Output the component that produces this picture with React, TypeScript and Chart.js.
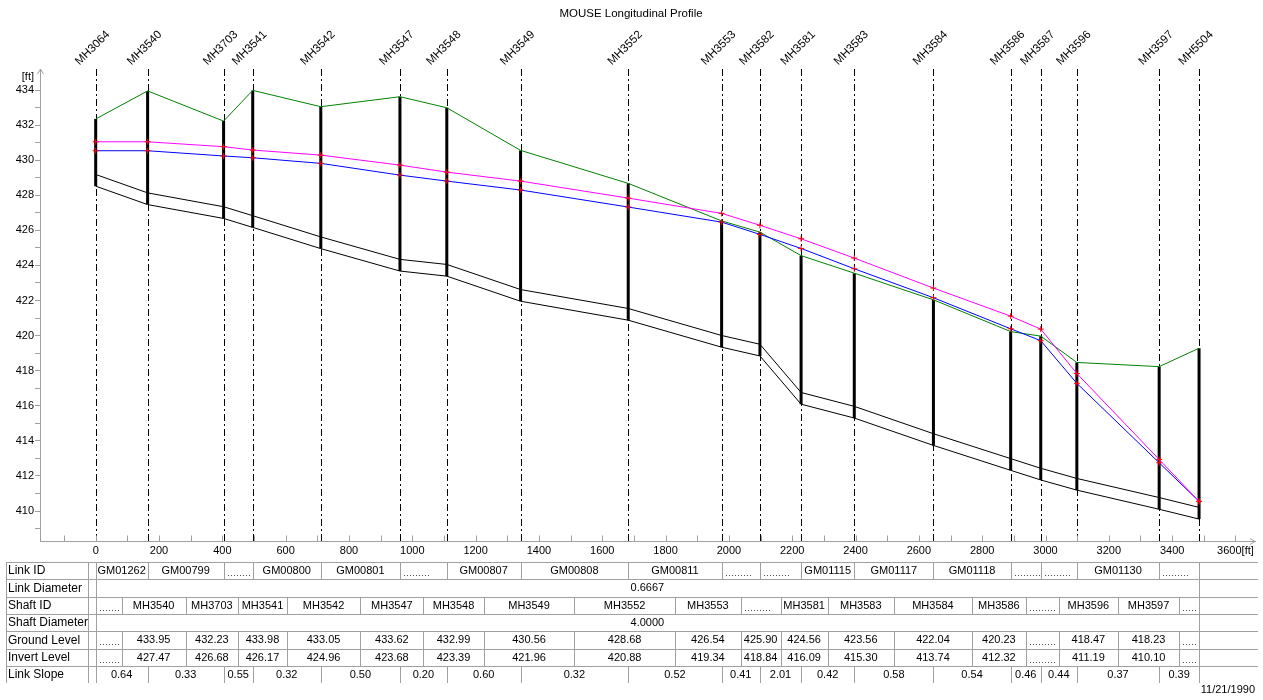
import React, { useEffect, useRef } from "react";
import { Chart, registerables } from "chart.js";

Chart.register(...registerables);

// ---------------- DATA ----------------
const MANHOLES = ["MH3064", "MH3540", "MH3703", "MH3541", "MH3542", "MH3547", "MH3548", "MH3549", "MH3552", "MH3553", "MH3582", "MH3581", "MH3583", "MH3584", "MH3586", "MH3587", "MH3596", "MH3597", "MH5504"];
const CHAINAGE = [0, 164, 404, 496, 711, 961, 1109, 1342, 1682, 1977, 2098, 2228, 2396, 2646, 2890, 2985, 3099, 3359, 3485];
const GROUND_LEVEL = [432.35, 433.95, 432.23, 433.98, 433.05, 433.62, 432.99, 430.56, 428.68, 426.54, 425.9, 424.56, 423.56, 422.04, 420.23, 419.97, 418.47, 418.23, 419.28];
const INVERT_LEVEL = [428.52, 427.47, 426.68, 426.17, 424.96, 423.68, 423.39, 421.96, 420.88, 419.34, 418.84, 416.09, 415.3, 413.74, 412.32, 411.77, 411.19, 410.1, 409.54];
const WATER_LEVEL = [430.54, 430.54, 430.24, 430.14, 429.82, 429.15, 428.81, 428.3, 427.33, 426.47, 425.77, 424.97, 423.81, 422.16, 420.39, 419.71, 417.28, 412.75, 410.55];
const ENERGY_LEVEL = [431.05, 431.05, 430.77, 430.58, 430.29, 429.72, 429.32, 428.81, 427.84, 426.97, 426.29, 425.52, 424.42, 422.71, 421.11, 420.37, 417.84, 412.94, 410.55];
const LINK_DIAMETER = 0.6667;
const SHAFT_DIAMETER = 4.0;

const LINK_IDS = ["GM01262", "GM00799", null, "GM00800", "GM00801", null, "GM00807", "GM00808", "GM00811", null, null, "GM01115", "GM01117", "GM01118", null, null, "GM01130", null];
const LINK_SLOPES = ["0.64", "0.33", "0.55", "0.32", "0.50", "0.20", "0.60", "0.32", "0.52", "0.41", "2.01", "0.42", "0.58", "0.54", "0.46", "0.44", "0.37", "0.39"];
const SHAFT_IDS = [null, "MH3540", "MH3703", "MH3541", "MH3542", "MH3547", "MH3548", "MH3549", "MH3552", "MH3553", null, "MH3581", "MH3583", "MH3584", "MH3586", null, "MH3596", "MH3597", null];
const GROUND_TABLE = [null, "433.95", "432.23", "433.98", "433.05", "433.62", "432.99", "430.56", "428.68", "426.54", "425.90", "424.56", "423.56", "422.04", "420.23", null, "418.47", "418.23", null];
const INVERT_TABLE = [null, "427.47", "426.68", "426.17", "424.96", "423.68", "423.39", "421.96", "420.88", "419.34", "418.84", "416.09", "415.30", "413.74", "412.32", null, "411.19", "410.10", null];
const ROW_LABELS = ["Link ID", "Link Diameter", "Shaft ID", "Shaft Diameter", "Ground Level", "Invert Level", "Link Slope"];

const X_TICKS = [-100, 0, 100, 200, 300, 400, 500, 600, 700, 800, 900, 1000, 1100, 1200, 1300, 1400, 1500, 1600, 1700, 1800, 1900, 2000, 2100, 2200, 2300, 2400, 2500, 2600, 2700, 2800, 2900, 3000, 3100, 3200, 3300, 3400, 3500, 3600];
const X_LABELS = [0, 200, 400, 600, 800, 1000, 1200, 1400, 1600, 1800, 2000, 2200, 2400, 2600, 2800, 3000, 3200, 3400, 3600];
const Y_TICKS = [409, 410, 411, 412, 413, 414, 415, 416, 417, 418, 419, 420, 421, 422, 423, 424, 425, 426, 427, 428, 429, 430, 431, 432, 433, 434];
const Y_LABELS = [410, 412, 414, 416, 418, 420, 422, 424, 426, 428, 430, 432, 434];

const TITLE = "MOUSE Longitudinal Profile";
const DATE_TEXT = "11/21/1990";

const FONT = '"Liberation Sans", Arial, sans-serif';

const extrasPlugin = {
  id: "profileExtras",
  beforeDatasetsDraw(chart: any) {
    const { ctx, chartArea, scales } = chart;
    const xs = scales.x;
    ctx.save();
    ctx.strokeStyle = "#000";
    ctx.lineWidth = 1;
    ctx.setLineDash([7, 3, 2, 3]);
    for (const c of CHAINAGE) {
      const x = Math.round(xs.getPixelForValue(c)) + 0.5;
      ctx.beginPath();
      ctx.moveTo(x, chartArea.top);
      ctx.lineTo(x, chartArea.bottom);
      ctx.stroke();
    }
    ctx.restore();
  },
  afterDraw(chart: any) {
    const { ctx, chartArea, scales } = chart;
    const xs = scales.x;
    ctx.save();
    ctx.fillStyle = "#000";
    // title
    ctx.font = `11.5px ${FONT}`;
    ctx.textAlign = "center";
    ctx.textBaseline = "middle";
    ctx.fillText(TITLE, 631, 14);

    // [ft] unit
    ctx.font = `11px ${FONT}`;
    ctx.textAlign = "right";
    ctx.fillText("[ft]", 34, 77);

    // axis arrows and inner x ticks
    ctx.strokeStyle = "#a0a0a0";
    ctx.lineWidth = 1;
    const ax = Math.round(chartArea.left) + 0.5;
    const ay = Math.round(chartArea.bottom) + 0.5;
    ctx.beginPath();
    ctx.moveTo(ax - 3, chartArea.top + 5);
    ctx.lineTo(ax, chartArea.top);
    ctx.lineTo(ax + 3, chartArea.top + 5);
    ctx.stroke();
    ctx.beginPath();
    ctx.moveTo(chartArea.right - 5, ay - 3);
    ctx.lineTo(chartArea.right, ay);
    ctx.lineTo(chartArea.right - 5, ay + 3);
    ctx.stroke();
    for (const t of X_TICKS) {
      const x = Math.round(xs.getPixelForValue(t)) + 0.5;
      ctx.beginPath();
      ctx.moveTo(x, ay - 6);
      ctx.lineTo(x, ay);
      ctx.stroke();
    }

    // manhole labels
    ctx.fillStyle = "#000";
    ctx.font = `11.5px ${FONT}`;
    ctx.textAlign = "center";
    ctx.textBaseline = "middle";
    CHAINAGE.forEach((c, i) => {
      const x = xs.getPixelForValue(c);
      ctx.save();
      ctx.translate(x - 3, 48);
      ctx.rotate(-Math.PI / 4);
      ctx.fillText(MANHOLES[i], 0, 0);
      ctx.restore();
    });

    // table
    const top = 562;
    const rh = 17.3;
    const nRows = ROW_LABELS.length;
    const L = 6;
    const LR = 88;
    const R = 1258;
    const bottom = top + nRows * rh;
    const px = CHAINAGE.map((c) => xs.getPixelForValue(c));
    const x0 = px[0];
    const xn = px[px.length - 1];
    const mids = px.slice(0, -1).map((p, i) => (p + px[i + 1]) / 2);
    const inner = px.slice(1, -1);

    ctx.strokeStyle = "#a0a0a0";
    ctx.lineWidth = 1;
    const hl = (y: number, a: number, b: number) => {
      const yy = Math.round(y) + 0.5;
      ctx.beginPath();
      ctx.moveTo(a, yy);
      ctx.lineTo(b, yy);
      ctx.stroke();
    };
    const vl = (x: number, a: number, b: number) => {
      const xx = Math.round(x) + 0.5;
      ctx.beginPath();
      ctx.moveTo(xx, Math.round(a));
      ctx.lineTo(xx, Math.round(b));
      ctx.stroke();
    };
    for (let r = 0; r < nRows; r++) hl(top + r * rh, L, R);
    vl(L, top, bottom);
    vl(LR, top, bottom);
    vl(x0, top, bottom);
    vl(xn, top, bottom);
    const rowSeps: Record<number, number[]> = { 0: inner, 2: mids, 4: mids, 5: mids, 6: inner };
    Object.keys(rowSeps).forEach((k) => {
      const r = Number(k);
      for (const x of rowSeps[r]) vl(x, top + r * rh, top + (r + 1) * rh);
    });

    const dots = (a: number, b: number, yc: number) => {
      ctx.fillStyle = "#505050";
      for (let x = a + 4; x <= b - 2 && x <= a + 28; x += 3) {
        ctx.fillRect(Math.round(x), Math.round(yc + 4), 1, 1);
      }
      ctx.fillStyle = "#000";
    };
    const cellText = (t: string | null, a: number, b: number, yc: number) => {
      if (t === null) dots(a, b, yc);
      else ctx.fillText(t, (a + b) / 2, yc);
    };

    ctx.fillStyle = "#000";
    ctx.textBaseline = "middle";
    ctx.font = `12px ${FONT}`;
    ctx.textAlign = "left";
    ROW_LABELS.forEach((lab, r) => {
      ctx.fillText(lab, L + 2, top + r * rh + rh / 2 + 0.5);
    });

    ctx.font = `11px ${FONT}`;
    ctx.textAlign = "center";
    const yc = (r: number) => top + r * rh + rh / 2 + 0.5;
    LINK_IDS.forEach((t, i) => cellText(t, px[i], px[i + 1], yc(0)));
    ctx.fillText(LINK_DIAMETER.toFixed(4), (x0 + xn) / 2, yc(1));
    const sb = (i: number) => (i === 0 ? x0 : mids[i - 1]);
    const se = (i: number) => (i === px.length - 1 ? xn : mids[i]);
    SHAFT_IDS.forEach((t, i) => cellText(t, sb(i), se(i), yc(2)));
    ctx.fillText(SHAFT_DIAMETER.toFixed(4), (x0 + xn) / 2, yc(3));
    GROUND_TABLE.forEach((t, i) => cellText(t, sb(i), se(i), yc(4)));
    INVERT_TABLE.forEach((t, i) => cellText(t, sb(i), se(i), yc(5)));
    LINK_SLOPES.forEach((t, i) => cellText(t, px[i], px[i + 1], yc(6)));

    // date
    ctx.font = `11px ${FONT}`;
    ctx.textAlign = "right";
    ctx.fillText(DATE_TEXT, 1255, 690);
    ctx.restore();
  },
};

export default function App() {
  const ref = useRef<HTMLCanvasElement | null>(null);

  useEffect(() => {
    if (!ref.current) return;
    const pts = (ys: number[]) => CHAINAGE.map((x, i) => ({ x, y: ys[i] }));
    const pipeTop = INVERT_LEVEL.map((v) => v + LINK_DIAMETER);
    const shafts: any[] = [];
    CHAINAGE.forEach((x, i) => {
      shafts.push({ x, y: INVERT_LEVEL[i] }, { x, y: GROUND_LEVEL[i] }, { x, y: null });
    });

    const chart = new Chart(ref.current, {
      type: "line",
      data: {
        datasets: [
          {
            label: "Energy line",
            data: pts(ENERGY_LEVEL),
            borderColor: "#ff00ff",
            borderWidth: 1,
            pointStyle: "cross",
            pointRadius: 3,
            pointBorderColor: "#ff0000",
            pointBorderWidth: 1,
            tension: 0,
          },
          {
            label: "Water level",
            data: pts(WATER_LEVEL),
            borderColor: "#0000ff",
            borderWidth: 1,
            pointStyle: "cross",
            pointRadius: 3,
            pointBorderColor: "#ff0000",
            pointBorderWidth: 1,
            tension: 0,
          },
          {
            label: "Ground level",
            data: pts(GROUND_LEVEL),
            borderColor: "#008000",
            borderWidth: 1,
            pointRadius: 0,
            tension: 0,
          },
          {
            label: "Pipe top",
            data: pts(pipeTop),
            borderColor: "#000000",
            borderWidth: 1,
            pointRadius: 0,
            tension: 0,
          },
          {
            label: "Invert level",
            data: pts(INVERT_LEVEL),
            borderColor: "#000000",
            borderWidth: 1,
            pointRadius: 0,
            tension: 0,
          },
          {
            label: "Shafts",
            data: shafts,
            borderColor: "#000000",
            borderWidth: 3,
            pointRadius: 0,
            spanGaps: false,
            tension: 0,
          },
        ],
      },
      options: {
        responsive: false,
        animation: false,
        events: [],
        layout: { padding: { left: 0, right: 8, top: 69, bottom: 139 } },
        plugins: { legend: { display: false }, tooltip: { enabled: false }, title: { display: false } },
        scales: {
          x: {
            type: "linear",
            min: -175.9,
            max: 3661.7,
            afterBuildTicks: (s: any) => {
              s.ticks = X_TICKS.map((v) => ({ value: v }));
            },
            afterFit: (s: any) => {
              s.height = 20;
            },
            grid: { display: false, drawTicks: false },
            border: { display: true, color: "#a0a0a0" },
            ticks: {
              autoSkip: false,
              maxRotation: 0,
              minRotation: 0,
              padding: 3,
              color: "#000",
              font: { family: FONT, size: 11 },
              callback: (v: any) => (X_LABELS.includes(v) ? (v === 3600 ? "3600[ft]" : String(v)) : ""),
            },
          },
          y: {
            type: "linear",
            min: 408.29,
            max: 435.2,
            afterBuildTicks: (s: any) => {
              s.ticks = Y_TICKS.map((v) => ({ value: v }));
            },
            afterFit: (s: any) => {
              s.width = 40;
            },
            grid: { drawOnChartArea: false, drawTicks: true, tickLength: 5, color: "#a0a0a0" },
            border: { display: true, color: "#a0a0a0" },
            ticks: {
              autoSkip: false,
              padding: 1,
              color: "#000",
              font: { family: FONT, size: 11 },
              callback: (v: any) => (Y_LABELS.includes(v) ? String(v) : ""),
            },
          },
        },
      },
      plugins: [extrasPlugin],
    } as any);
    return () => chart.destroy();
  }, []);

  return (
    <div style={{ position: "absolute", left: 0, top: 0, width: 1263, height: 700, background: "#fff" }}>
      <canvas ref={ref} width={1263} height={700} style={{ display: "block", width: 1263, height: 700 }} />
    </div>
  );
}
